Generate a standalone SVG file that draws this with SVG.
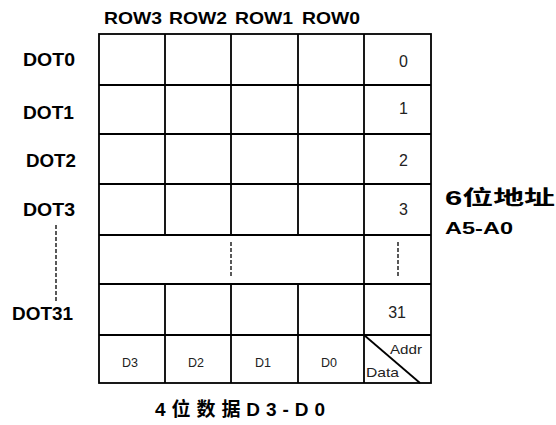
<svg xmlns="http://www.w3.org/2000/svg" width="556" height="425" viewBox="0 0 556 425">
<style>
.ln{stroke:#000;stroke-width:1.8;fill:none}
.dash{stroke:#000;stroke-width:1.3;stroke-dasharray:4 2;fill:none}
.hdr{font-family:"Liberation Sans",Arial,sans-serif;font-weight:bold;font-size:16.5px;fill:#000;text-anchor:middle}
.dot{font-family:"Liberation Sans",Arial,sans-serif;font-weight:bold;font-size:17.5px;fill:#000;text-anchor:end}
.num{font-family:"Liberation Sans",Arial,sans-serif;font-size:16px;fill:#222;text-anchor:end}
.sm{font-family:"Liberation Sans",Arial,sans-serif;font-size:12.5px;fill:#222;text-anchor:middle}
.tiny{font-family:"Liberation Sans",Arial,sans-serif;font-size:13px;fill:#222}
.cjk{font-family:"Liberation Sans","Noto Sans CJK SC",sans-serif;font-weight:bold;fill:#000}
</style>
<rect width="556" height="425" fill="#fff"/>
<g id="grid">
<rect class="ln" x="99" y="34" width="332" height="349"/>
<path class="ln" d="M99 85H431M99 134H431M99 184H431M99 235H431M99 284H431M99 335H431"/>
<path class="ln" d="M165 34V235M231 34V235M298 34V235M165 284V383M231 284V383M298 284V383M364 34V383"/>
<path class="ln" d="M364 335L420 383" stroke-width="1.3"/>
</g>
<g id="connectors">
<path class="dash" d="M231 242V277"/>
<path class="dash" d="M398 242V277"/>
<path class="dash" d="M56 225V303"/>
</g>
<g id="row-headers">
<text class="hdr" x="133" y="24" textLength="58" lengthAdjust="spacingAndGlyphs">ROW3</text>
<text class="hdr" x="198" y="24" textLength="58" lengthAdjust="spacingAndGlyphs">ROW2</text>
<text class="hdr" x="264" y="24" textLength="58" lengthAdjust="spacingAndGlyphs">ROW1</text>
<text class="hdr" x="331" y="24" textLength="58" lengthAdjust="spacingAndGlyphs">ROW0</text>
</g>
<g id="dot-labels">
<text class="dot" x="75" y="66" textLength="52" lengthAdjust="spacingAndGlyphs">DOT0</text>
<text class="dot" x="74" y="119" textLength="51" lengthAdjust="spacingAndGlyphs">DOT1</text>
<text class="dot" x="76" y="167" textLength="50" lengthAdjust="spacingAndGlyphs">DOT2</text>
<text class="dot" x="75" y="216" textLength="52" lengthAdjust="spacingAndGlyphs">DOT3</text>
<text class="dot" x="73" y="320" textLength="61" lengthAdjust="spacingAndGlyphs">DOT31</text>
</g>
<g id="addr-values">
<text class="num" x="408" y="67">0</text>
<text class="num" x="408" y="114">1</text>
<text class="num" x="408" y="166">2</text>
<text class="num" x="408" y="215">3</text>
<text class="num" x="406" y="318">31</text>
</g>
<g id="data-bits">
<text class="sm" x="130" y="367">D3</text>
<text class="sm" x="196" y="367">D2</text>
<text class="sm" x="263" y="367">D1</text>
<text class="sm" x="329" y="367">D0</text>
<text class="tiny" x="390" y="354" textLength="32" lengthAdjust="spacingAndGlyphs">Addr</text>
<text class="tiny" x="366" y="377" textLength="33" lengthAdjust="spacingAndGlyphs">Data</text>
</g>
<g id="addr-label">
<text class="cjk" x="445" y="205" font-size="20" textLength="110" lengthAdjust="spacingAndGlyphs">6位地址</text>
<text class="cjk" x="445" y="234" font-size="17" textLength="68" lengthAdjust="spacingAndGlyphs">A5-A0</text>
</g>
<g id="data-label">
<text class="cjk" x="155" y="416" font-size="19" textLength="170" lengthAdjust="spacing">4位数据D3-D0</text>
</g>
</svg>
